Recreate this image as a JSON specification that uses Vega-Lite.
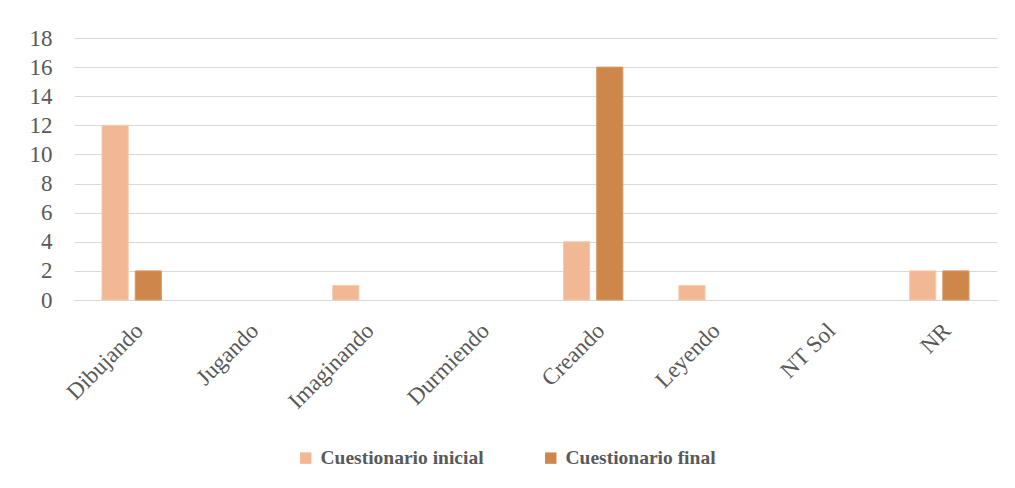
{
  "$schema": "https://vega.github.io/schema/vega-lite/v6.json",
  "autosize": {"type": "none"},
  "width": 923,
  "height": 262,
  "padding": {"left": 74, "top": 38, "right": 18, "bottom": 188},
  "background": "white",
  "config": {"view": {"stroke": null}},
  "data": {"values": [
    {"cat": "Dibujando", "serie": "Cuestionario inicial", "v": 12},
    {"cat": "Dibujando", "serie": "Cuestionario final", "v": 2},
    {"cat": "Jugando", "serie": "Cuestionario inicial", "v": 0},
    {"cat": "Jugando", "serie": "Cuestionario final", "v": 0},
    {"cat": "Imaginando", "serie": "Cuestionario inicial", "v": 1},
    {"cat": "Imaginando", "serie": "Cuestionario final", "v": 0},
    {"cat": "Durmiendo", "serie": "Cuestionario inicial", "v": 0},
    {"cat": "Durmiendo", "serie": "Cuestionario final", "v": 0},
    {"cat": "Creando", "serie": "Cuestionario inicial", "v": 4},
    {"cat": "Creando", "serie": "Cuestionario final", "v": 16},
    {"cat": "Leyendo", "serie": "Cuestionario inicial", "v": 1},
    {"cat": "Leyendo", "serie": "Cuestionario final", "v": 0},
    {"cat": "NT Sol", "serie": "Cuestionario inicial", "v": 0},
    {"cat": "NT Sol", "serie": "Cuestionario final", "v": 0},
    {"cat": "NR", "serie": "Cuestionario inicial", "v": 2},
    {"cat": "NR", "serie": "Cuestionario final", "v": 2}
  ]},
  "mark": {"type": "bar"},
  "encoding": {
    "x": {
      "field": "cat", "type": "nominal", "sort": null,
      "scale": {"paddingInner": 0.485, "paddingOuter": 0.2425},
      "axis": {"title": null, "labelAngle": -45, "labelFont": "Liberation Serif", "labelFontSize": 23, "labelColor": "#595959", "domain": false, "ticks": false, "labelPadding": 19}
    },
    "xOffset": {
      "field": "serie", "type": "nominal", "sort": ["Cuestionario inicial", "Cuestionario final"],
      "scale": {"paddingInner": 0.21, "paddingOuter": 0}
    },
    "y": {
      "field": "v", "type": "quantitative",
      "scale": {"domain": [0, 18], "nice": false},
      "axis": {"title": null, "values": [0,2,4,6,8,10,12,14,16,18], "labelFont": "Liberation Serif", "labelFontSize": 23, "labelColor": "#595959", "domain": false, "ticks": false, "labelPadding": 22, "gridColor": "#d9d9d9", "gridWidth": 1.2}
    },
    "color": {
      "field": "serie", "type": "nominal", "sort": ["Cuestionario inicial", "Cuestionario final"],
      "scale": {"domain": ["Cuestionario inicial", "Cuestionario final"], "range": ["#F0B894", "#CD874A"]},
      "legend": {"title": null, "orient": "none", "direction": "horizontal", "legendX": 222, "legendY": 410, "symbolType": "square", "symbolSize": 130, "symbolStrokeWidth": 0, "labelFont": "Liberation Serif", "labelFontWeight": "bold", "labelFontSize": 19.5, "labelColor": "#595959", "labelLimit": 400, "columnPadding": 57, "labelOffset": 5}
    },
    "stroke": {
      "field": "serie", "type": "nominal",
      "scale": {"domain": ["Cuestionario inicial", "Cuestionario final"], "range": ["#F5CBAF", "#D99C68"]},
      "legend": null
    },
    "strokeWidth": {"condition": {"test": "datum.v === 0", "value": 0}, "value": 1}
  }
}
